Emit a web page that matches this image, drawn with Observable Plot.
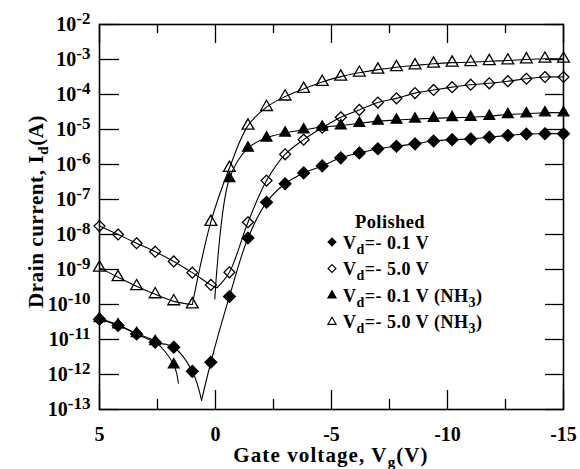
<!DOCTYPE html>
<html>
<head>
<meta charset="utf-8">
<script src="https://cdn.jsdelivr.net/npm/d3@7"></script>
<script src="https://cdn.jsdelivr.net/npm/@observablehq/plot@0.6"></script>
<style>
  html, body { margin: 0; padding: 0; background: #fff; }
  #chart svg { display: block; }
</style>
</head>
<body>
<div id="chart"></div>
<script>
// ---------------- data ----------------
// Gate voltage (V) of every measured point
const gateV = [5, 4.2, 3.4, 2.6, 1.8, 1.0, 0.2, -0.6, -1.4, -2.2, -3.0, -3.8, -4.6,
               -5.4, -6.2, -7.0, -7.8, -8.6, -9.4, -10.2, -11.0, -11.8, -12.6, -13.4, -14.2, -15.0];

// log10 of drain current (A)
const logPolished01 = [-10.42, -10.60, -10.84, -11.08, -11.22, -11.91, -11.65, -9.77, -8.10, -7.08, -6.55, -6.24, -6.04,
                       -5.81, -5.67, -5.55, -5.48, -5.41, -5.33, -5.29, -5.27, -5.22, -5.17, -5.13, -5.12, -5.12];
const logPolished50 = [-7.76, -8.00, -8.25, -8.49, -8.77, -9.09, -9.44, -9.08, -7.65, -6.46, -5.71, -5.29, -4.95,
                       -4.65, -4.44, -4.23, -4.11, -3.96, -3.87, -3.79, -3.72, -3.68, -3.62, -3.55, -3.50, -3.50];
const logNH3_01 = [-10.40, -10.58, -10.83, -11.06, -11.72, null, null, -6.40, -5.53, -5.24, -5.10, -5.01, -4.93,
                   -4.89, -4.82, -4.76, -4.73, -4.70, -4.68, -4.66, -4.65, -4.62, -4.57, -4.55, -4.52, -4.52];
const logNH3_50 = [-8.95, -9.22, -9.48, -9.71, -9.91, -10.00, -7.64, -6.10, -4.89, -4.36, -4.06, -3.84, -3.64,
                   -3.49, -3.38, -3.29, -3.22, -3.17, -3.12, -3.09, -3.08, -3.05, -3.03, -3.00, -2.98, -2.98];

// extra points of the fitted curves (gate V, log10 Id) that carry no marker
const curveExtraPolished01 = [[0.6, -12.74]];
const curveExtraPolished50 = [[-0.07, -9.52]];
const curveExtraNH3_01 = [[1.6, -12.25], [0.03, -9.84]];
const curveExtraNH3_50 = [];

// gate-voltage ranges covered by each piece of the fitted curves
const curvePiecesPolished01 = [[5, 0.6], [0.6, -15]];
const curvePiecesPolished50 = [[5, -0.07], [-0.07, -15]];
const curvePiecesNH3_01 = [[5, 1.6], [0.03, -15]];
const curvePiecesNH3_50 = [[5, 1.0], [1.0, -15]];

// axes
const yExponents = [-2, -3, -4, -5, -6, -7, -8, -9, -10, -11, -12, -13];
const xMajorTicks = [5, 0, -5, -10, -15];
const xMinorTicks = [2.5, -2.5, -7.5, -12.5];
const xLabelParts = [["Gate voltage, V"], ["g", "sub"], ["(V)"]];
const yLabelParts = [["Drain current, I"], ["d", "sub"], ["(A)"]];

// legend
const legendTitle = "Polished";
const legendParts = [
  [["V"], ["d", "sub"], ["=- 0.1 V"]],
  [["V"], ["d", "sub"], ["=- 5.0 V"]],
  [["V"], ["d", "sub"], ["=- 0.1 V (NH"], ["3", "sub"], [")"]],
  [["V"], ["d", "sub"], ["=- 5.0 V (NH"], ["3", "sub"], [")"]]
];

// ---------------- build tables ----------------
const seriesDefs = [
  {name: "pol01", logs: logPolished01, extra: curveExtraPolished01, pieces: curvePiecesPolished01,
   symbol: "diamond2", d3symbol: d3.symbolDiamond2, fill: "black", r: 5.3},
  {name: "pol50", logs: logPolished50, extra: curveExtraPolished50, pieces: curvePiecesPolished50,
   symbol: "diamond2", d3symbol: d3.symbolDiamond2, fill: "none", r: 4.9},
  {name: "nh01", logs: logNH3_01, extra: curveExtraNH3_01, pieces: curvePiecesNH3_01,
   symbol: "triangle", d3symbol: d3.symbolTriangle, fill: "black", r: 4.0},
  {name: "nh50", logs: logNH3_50, extra: curveExtraNH3_50, pieces: curvePiecesNH3_50,
   symbol: "triangle", d3symbol: d3.symbolTriangle, fill: "none", r: 4.4}
];

const curveRows = [];
const markerRows = {};
for (const s of seriesDefs) {
  const pts = gateV.map((v, i) => ({v, id: s.logs[i] == null ? null : 10 ** s.logs[i]}))
                   .filter(d => d.id != null);
  markerRows[s.name] = pts;
  const all = pts.concat(s.extra.map(([v, l]) => ({v, id: 10 ** l})))
                 .sort((a, b) => b.v - a.v);
  s.pieces.forEach(([hi, lo], k) => {
    for (const d of all) {
      if (d.v <= hi + 1e-9 && d.v >= lo - 1e-9) curveRows.push({v: d.v, id: d.id, seg: s.name + k});
    }
  });
}

const yTicks = yExponents.map(e => 10 ** e);
const FONT = '"Liberation Serif", "Times New Roman", Times, serif';

const marks = [
  Plot.line(curveRows, {x: "v", y: "id", z: "seg", curve: "catmull-rom", stroke: "black", strokeWidth: 1.1}),
  ...seriesDefs.map(s => Plot.dot(markerRows[s.name], {
    x: "v", y: "id", symbol: s.symbol, r: s.r, fill: s.fill, stroke: "black", strokeWidth: 1.3
  })),
  // inward ticks
  Plot.axisY(yTicks, {anchor: "left", tickSize: -20, fill: "none", label: null, strokeWidth: 1.3}),
  Plot.axisY(yTicks, {anchor: "right", tickSize: -19, fill: "none", label: null, strokeWidth: 1.3}),
  Plot.axisX(xMajorTicks, {anchor: "bottom", tickSize: -19, fill: "none", label: null, strokeWidth: 1.3}),
  Plot.axisX(xMinorTicks, {anchor: "bottom", tickSize: -10, fill: "none", label: null, strokeWidth: 1.3}),
  Plot.axisX(xMajorTicks, {anchor: "top", tickSize: -18, fill: "none", label: null, strokeWidth: 1.3}),
  Plot.axisX(xMinorTicks, {anchor: "top", tickSize: -8, fill: "none", label: null, strokeWidth: 1.3}),
  // tick labels
  Plot.axisY(yTicks, {anchor: "left", tickSize: 0, tickPadding: 9, label: null, fontSize: 20, fontWeight: "bold",
    tickFormat: d => String(Math.round(Math.log10(d)))}),
  Plot.axisX(xMajorTicks, {anchor: "bottom", tickSize: 0, tickPadding: 17, label: null, fontSize: 20, fontWeight: "bold",
    tickFormat: d => String(d)}),
  Plot.frame({stroke: "black", strokeWidth: 1.6})
];

const chart = Plot.plot({
  width: 580, height: 469,
  marginLeft: 99, marginRight: 17, marginTop: 24, marginBottom: 60,
  style: {fontFamily: FONT, fontWeight: "bold", background: "white", color: "black"},
  x: {domain: [5, -15]},
  y: {type: "log", domain: [1e-13, 1e-2]},
  marks
});
document.getElementById("chart").appendChild(chart);

// ---------------- text with sub/superscripts ----------------
const svg = d3.select(chart);

svg.selectAll('g[aria-label="y-axis tick label"] text').each(function () {
  const exp = this.textContent;
  const t = d3.select(this);
  t.text(null);
  t.append("tspan").text("10");
  t.append("tspan").attr("dy", -7).attr("font-size", 17).text(exp);
});

function rich(textSel, parts, size, subSize, subShift) {
  let shifted = false;
  for (const [str, kind] of parts) {
    const ts = textSel.append("tspan").text(str);
    if (kind === "sub") {
      ts.attr("font-size", subSize).attr("dy", subShift);
      shifted = true;
    } else {
      ts.attr("font-size", size);
      if (shifted) { ts.attr("dy", -subShift); shifted = false; }
    }
  }
}

const W = 580, H = 469, mL = 99, mR = 17, mT = 24, mB = 60;

// x label
rich(svg.append("text")
  .attr("x", (mL + W - mR) / 2).attr("y", 462)
  .attr("text-anchor", "middle").attr("font-family", FONT).attr("font-weight", "bold")
  .attr("letter-spacing", 1.1),
  xLabelParts, 21, 15, 5);

// y label
rich(svg.append("text")
  .attr("transform", `translate(43,${(mT + H - mB) / 2 - 5}) rotate(-90)`)
  .attr("text-anchor", "middle").attr("font-family", FONT).attr("font-weight", "bold")
  .attr("letter-spacing", 0.6),
  yLabelParts, 21, 15, 5);

// legend
const lg = svg.append("g").attr("font-family", FONT).attr("font-weight", "bold").attr("text-anchor", "start");
lg.append("text").attr("x", 355).attr("y", 228).attr("font-size", 18.5).attr("letter-spacing", 0.4).text(legendTitle);
const rowY = [242, 268.5, 295, 321.5];
seriesDefs.forEach((s, i) => {
  const isTri = s.d3symbol === d3.symbolTriangle;
  lg.append("path")
    .attr("transform", `translate(332,${rowY[i] + (isTri ? 0.5 : 0)})`)
    .attr("d", d3.symbol(s.d3symbol, isTri ? 30 : 40)())
    .attr("fill", s.fill === "none" ? "none" : "black")
    .attr("stroke", "black").attr("stroke-width", 1.1);
  rich(lg.append("text").attr("x", 343).attr("y", rowY[i] + 6.5).attr("letter-spacing", 0.5),
    legendParts[i], 18, 14, 5);
});
</script>
</body>
</html>
